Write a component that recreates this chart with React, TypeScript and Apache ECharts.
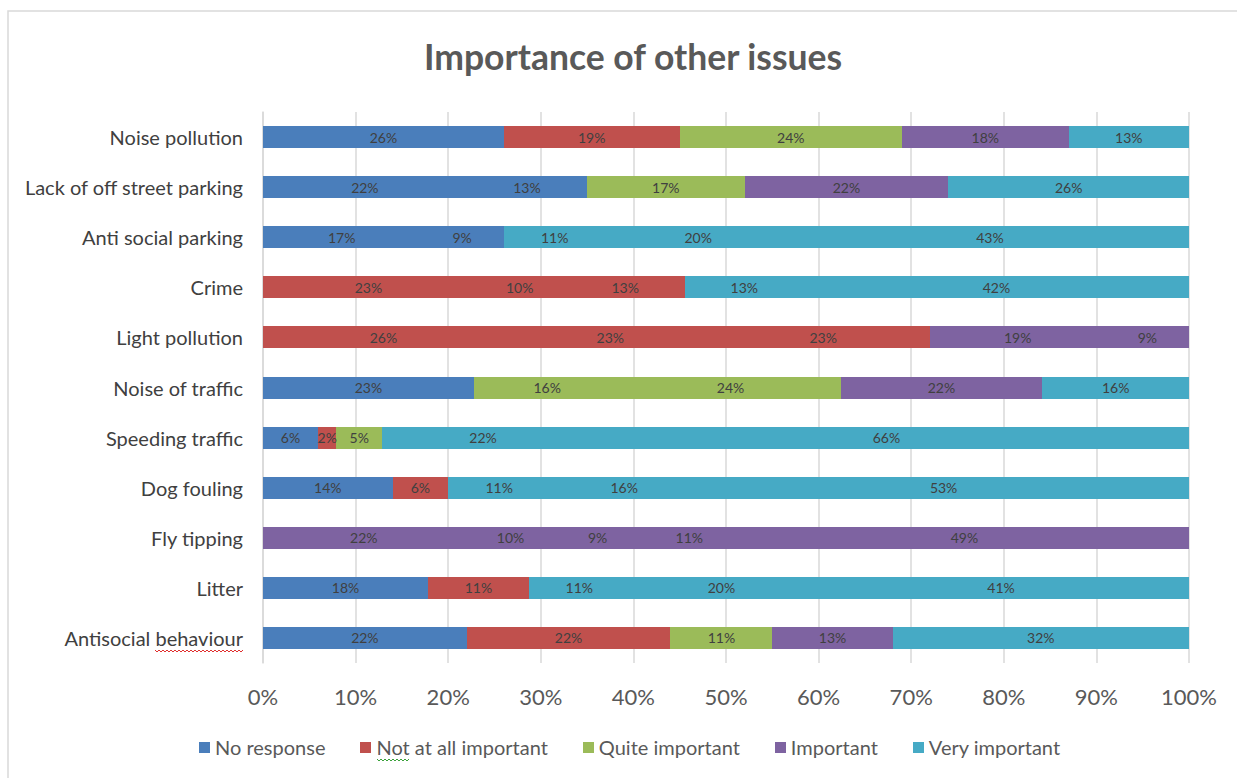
import React, { useEffect, useRef } from "react";
import * as echarts from "echarts";

const categories = [
  "Noise pollution",
  "Lack of off street parking",
  "Anti social parking",
  "Crime",
  "Light pollution",
  "Noise of traffic",
  "Speeding traffic",
  "Dog fouling",
  "Fly tipping",
  "Litter",
  "Antisocial behaviour",
];

const seriesNames = [
  "No response",
  "Not at all important",
  "Quite important",
  "Important",
  "Very important",
];

// Stacked segment values (percent), one array per stack position
const segment1 = [26, 22, 17, 23, 26, 23, 6, 14, 22, 18, 22];
const segment2 = [19, 13, 9, 10, 23, 16, 2, 6, 10, 11, 22];
const segment3 = [24, 17, 11, 13, 23, 24, 5, 11, 9, 11, 11];
const segment4 = [18, 22, 20, 13, 19, 22, 22, 16, 11, 20, 13];
const segment5 = [13, 26, 43, 42, 9, 16, 66, 53, 49, 41, 32];

const xTicks = [0, 10, 20, 30, 40, 50, 60, 70, 80, 90, 100];

// Styling
const palette: Record<string, string> = {
  B: "#4a7ebb",
  R: "#c0504d",
  G: "#9bbb59",
  P: "#7e63a1",
  T: "#46aac5",
};
const legendColours = [palette.B, palette.R, palette.G, palette.P, palette.T];
// Fill colour of each segment, row by row
const segmentColours = [
  ["B", "R", "G", "P", "T"],
  ["B", "B", "G", "P", "T"],
  ["B", "B", "T", "T", "T"],
  ["R", "R", "R", "T", "T"],
  ["R", "R", "R", "P", "P"],
  ["B", "G", "G", "P", "T"],
  ["B", "R", "G", "T", "T"],
  ["B", "R", "T", "T", "T"],
  ["P", "P", "P", "P", "P"],
  ["B", "R", "T", "T", "T"],
  ["B", "R", "G", "P", "T"],
];

const FONT = "Lato, 'Open Sans', sans-serif";

// Wavy proofing underline
function squiggle(x0: number, x1: number, y: number, color: string) {
  const pts: number[][] = [];
  let up = true;
  for (let x = x0; x <= x1; x += 2) {
    pts.push([x, up ? y - 1 : y + 1]);
    up = !up;
  }
  return {
    type: "polyline",
    shape: { points: pts },
    style: { stroke: color, lineWidth: 1, fill: "none" },
    silent: true,
    z: 100,
  };
}

export default function App() {
  const ref = useRef<HTMLDivElement>(null);

  useEffect(() => {
    if (!ref.current) return;
    const chart = echarts.init(ref.current, null, { renderer: "svg" });
    const segments = [segment1, segment2, segment3, segment4, segment5];
    const rowTotals = categories.map((_, i) =>
      segments.reduce((s, seg) => s + seg[i], 0)
    );

    const series = segments.map((seg, si) => ({
      name: seriesNames[si],
      type: "bar",
      stack: "total",
      barWidth: 22,
      itemStyle: { color: legendColours[si] },
      label: {
        show: true,
        position: "inside",
        color: "#404040",
        fontFamily: FONT,
        fontSize: 14,
        formatter: (p: any) => `${seg[p.dataIndex]}%`,
      },
      data: seg.map((v, i) => ({
        value: (v / rowTotals[i]) * 100,
        itemStyle: { color: palette[segmentColours[i][si]] },
      })),
    }));

    chart.setOption({
      animation: false,
      textStyle: { fontFamily: FONT },
      title: {
        text: "Importance of other issues",
        left: 628,
        textAlign: "center",
        top: 33,
        textStyle: {
          fontFamily: FONT,
          fontSize: 35.5,
          fontWeight: "bold",
          color: "#595959",
        },
      },
      legend: {
        bottom: 21,
        left: 199,
        padding: 0,
        icon: "rect",
        itemWidth: 11,
        itemHeight: 11,
        itemGap: 35,
        textStyle: { fontFamily: FONT, fontSize: 20, color: "#595959" },
        data: seriesNames,
      },
      grid: { left: 263, right: 48, top: 112, bottom: 115, containLabel: false },
      xAxis: {
        type: "value",
        min: xTicks[0],
        max: xTicks[xTicks.length - 1],
        interval: 10,
        axisLine: { show: false },
        axisTick: { show: false },
        splitLine: { show: true, lineStyle: { color: "#d9d9d9", width: 1.5 } },
        axisLabel: {
          formatter: (v: number) => `${v}%`,
          fontFamily: FONT,
          fontSize: 22,
          color: "#595959",
          margin: 22,
        },
      },
      yAxis: {
        type: "category",
        data: categories,
        inverse: true,
        axisLine: { show: true, lineStyle: { color: "#d9d9d9", width: 1.5 } },
        axisTick: { show: false },
        axisLabel: {
          fontFamily: FONT,
          fontSize: 20,
          color: "#404040",
          margin: 20,
        },
      },
      graphic: [
        {
          type: "rect",
          shape: { x: 8, y: 11, width: 1400, height: 900 },
          style: { fill: "none", stroke: "#d9d9d9", lineWidth: 1.5 },
          silent: true,
        },
        squiggle(155, 243, 651, "#e0302f"),
        squiggle(377, 409, 760, "#3aa13a"),
      ],
      series,
    });
    return () => chart.dispose();
  }, []);

  return (
    <>
      <style>{`.issues-chart svg path:not([fill="none"]) { shape-rendering: crispEdges; }`}</style>
      <div
        ref={ref}
        className="issues-chart"
        style={{ position: "fixed", left: 0, top: 0, width: 1237, height: 778, background: "#fff" }}
      />
    </>
  );
}
